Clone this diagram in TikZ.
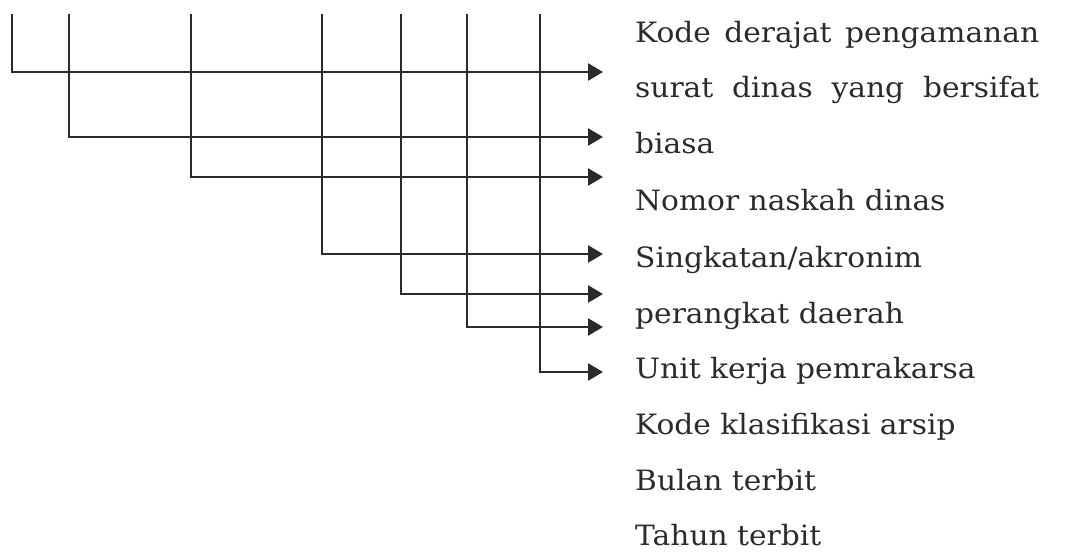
\documentclass[tikz,border=0pt]{standalone}
\usepackage{fontspec}
\setmainfont{DejaVu Serif}[FakeStretch=1.06]
\usetikzlibrary{arrows.meta}
\definecolor{ink}{HTML}{2B2B2B}
\tikzset{
  conn/.style={draw=ink, line width=2.7pt, -{Triangle[length=15pt,width=17pt]}},
  lbl/.style={anchor=base west, inner sep=0pt, text=ink, font=\fontsize{28}{28}\selectfont}
}
\begin{document}
\begin{tikzpicture}[x=1pt,y=-1pt]
\useasboundingbox (0,0) rectangle (1066,552);
% tops of the vertical lines
\coordinate (t1) at (12,14);
\coordinate (t2) at (69,14);
\coordinate (t3) at (191,14);
\coordinate (t4) at (322,14);
\coordinate (t5) at (401,14);
\coordinate (t6) at (467,14);
\coordinate (t7) at (540,14);
% arrow ends
\coordinate (e1) at (603,72);
\coordinate (e2) at (603,137);
\coordinate (e3) at (603,177);
\coordinate (e4) at (603,254);
\coordinate (e5) at (603,294);
\coordinate (e6) at (603,327);
\coordinate (e7) at (603,372);
\foreach \i in {1,...,7} { \draw[conn] (t\i) |- (e\i); }
% labels
\node[lbl] (l1) at (635,42) {\makebox[404pt][s]{Kode derajat pengamanan}};
\node[lbl] (l2) at (635,97) {\makebox[404pt][s]{surat dinas yang bersifat}};
\node[lbl] (l3) at (635,153) {biasa};
\node[lbl] (l4) at (635,210) {Nomor naskah dinas};
\node[lbl] (l5) at (635,267) {Singkatan/akronim};
\node[lbl] (l6) at (635,323) {perangkat daerah};
\node[lbl] (l7) at (635,378) {Unit kerja pemrakarsa};
\node[lbl] (l8) at (635,434) {Kode klasifikasi arsip};
\node[lbl] (l9) at (635,490) {Bulan terbit};
\node[lbl] (l10) at (635,545) {Tahun terbit};
\end{tikzpicture}
\end{document}
